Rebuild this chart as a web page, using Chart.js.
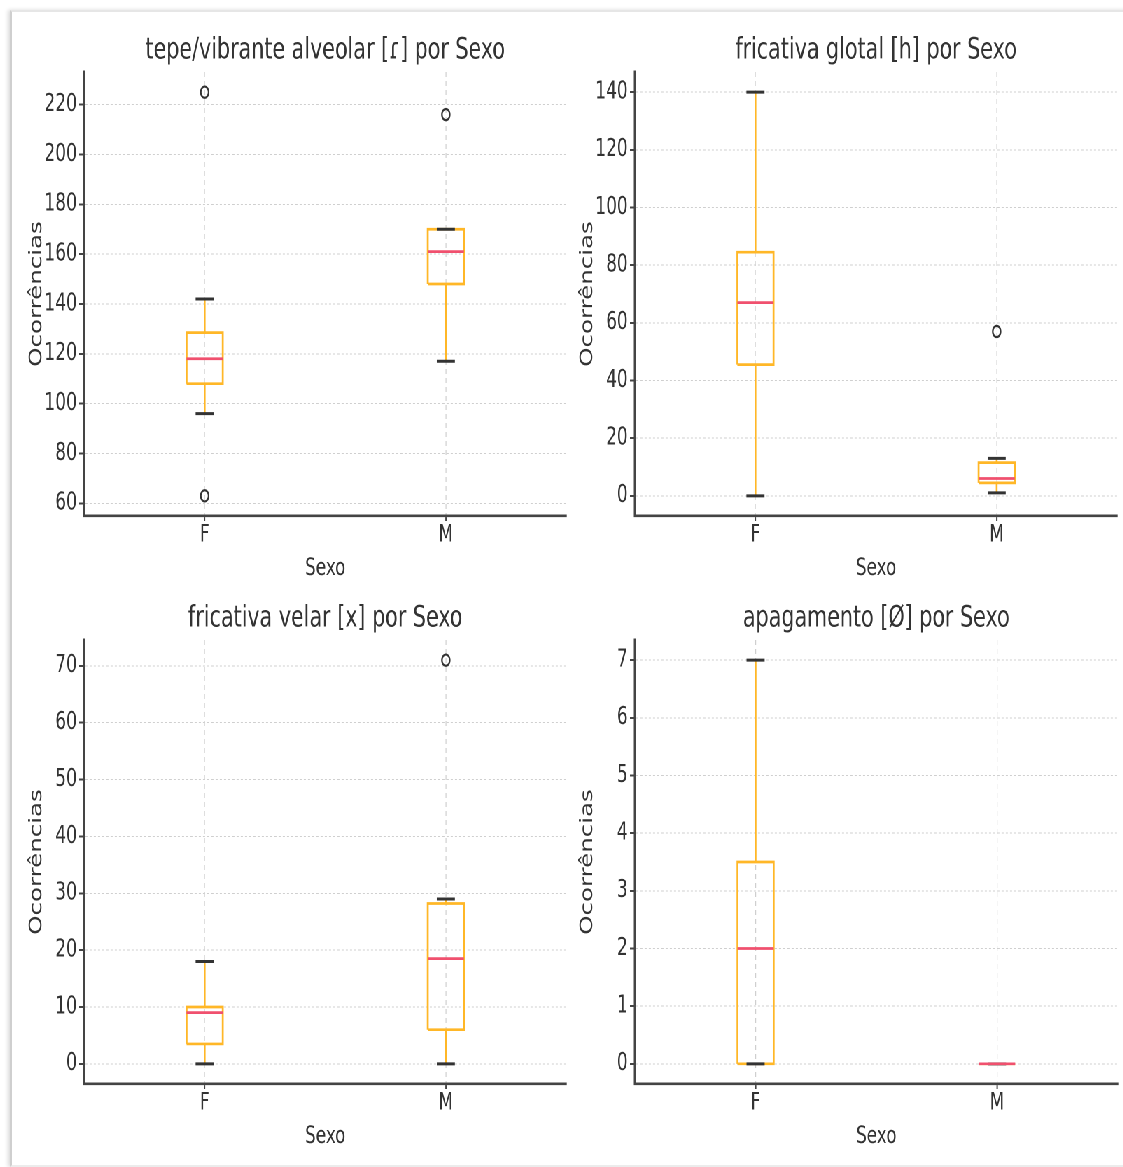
<!DOCTYPE html>
<html>
<head>
<meta charset="utf-8">
<script src="https://cdn.jsdelivr.net/npm/chart.js@4.4.1/dist/chart.umd.min.js"></script>
<style>
  html, body { margin: 0; padding: 0; background: #fff; overflow: hidden; }
  #page { position: relative; width: 1123px; height: 1167px; overflow: hidden; background: #fff; }
  #frame {
    position: absolute; left: 10px; top: 10px; width: 1130px; height: 1153px;
    border-top: 2px solid #e6e6e6; border-left: 2px solid #cfcfcf; border-bottom: 2px solid #ececec;
    box-shadow: -2px 0 4px rgba(0,0,0,0.15);
  }
  #squeeze { position: absolute; left: 0; top: 0; height: 1167px; transform-origin: 0 0; }
  #squeeze canvas { position: absolute; }
</style>
</head>
<body>
<div id="page">
  <div id="frame"></div>
  <div id="squeeze">
    <canvas id="tepeChart"></canvas>
    <canvas id="glotalChart"></canvas>
    <canvas id="velarChart"></canvas>
    <canvas id="apagChart"></canvas>
  </div>
</div>
<script>
// categorias do eixo x
const categories = ['F', 'M'];

// tepe/vibrante alveolar [ɾ]
const tepeLow = [96, 117];
const tepeQ1 = [108, 148];
const tepeMedian = [118, 161];
const tepeQ3 = [128.5, 170];
const tepeHigh = [142, 170];
const tepeOutliers = [[225, 63], [216]];
const tepeTicks = [60, 80, 100, 120, 140, 160, 180, 200, 220];

// fricativa glotal [h]
const glotalLow = [0, 1];
const glotalQ1 = [45.5, 4.5];
const glotalMedian = [67, 6];
const glotalQ3 = [84.5, 11.5];
const glotalHigh = [140, 13];
const glotalOutliers = [[], [57]];
const glotalTicks = [0, 20, 40, 60, 80, 100, 120, 140];

// fricativa velar [x]
const velarLow = [0, 0];
const velarQ1 = [3.5, 6];
const velarMedian = [9, 18.5];
const velarQ3 = [10, 28.2];
const velarHigh = [18, 29];
const velarOutliers = [[], [71]];
const velarTicks = [0, 10, 20, 30, 40, 50, 60, 70];

// apagamento [Ø]
const apagLow = [0, 0];
const apagQ1 = [0, 0];
const apagMedian = [2, 0];
const apagQ3 = [3.5, 0];
const apagHigh = [7, 0];
const apagOutliers = [[], []];
const apagTicks = [0, 1, 2, 3, 4, 5, 6, 7];

// a imagem original esta comprimida na horizontal
const K = 0.70;
const CANVAS_W = 572, CANVAS_H = 584;
const BOX_HALF = 0.075, CAP_HALF = 0.0375;
const TEXT = '#333';
const FONT = 'DejaVu Sans';
const ORANGE = '#ffb727';

document.getElementById('squeeze').style.width = (1123 / K) + 'px';
document.getElementById('squeeze').style.transform = 'scaleX(' + K + ')';

function yRange(low, high, outliers) {
  const all = low.concat(high, ...outliers);
  const mn = Math.min(...all), mx = Math.max(...all);
  const pad = (mx - mn) * 0.05;
  return [mn - pad, mx + pad];
}

function boxDatasets(low, q1, med, q3, high, outliers) {
  let whiskers = [], caps = [], boxes = [], medians = [], fliers = [];
  categories.forEach((c, i) => {
    const p = i + 1;
    whiskers.push({x: p, y: low[i]}, {x: p, y: q1[i]}, {x: p, y: null},
                  {x: p, y: q3[i]}, {x: p, y: high[i]}, {x: p, y: null});
    caps.push({x: p - CAP_HALF, y: low[i]}, {x: p + CAP_HALF, y: low[i]}, {x: p, y: null},
              {x: p - CAP_HALF, y: high[i]}, {x: p + CAP_HALF, y: high[i]}, {x: p, y: null});
    boxes.push({x: p - BOX_HALF, y: q1[i]}, {x: p + BOX_HALF, y: q1[i]}, {x: p + BOX_HALF, y: q3[i]},
               {x: p - BOX_HALF, y: q3[i]}, {x: p - BOX_HALF, y: q1[i]}, {x: p, y: null});
    medians.push({x: p - BOX_HALF, y: med[i]}, {x: p + BOX_HALF, y: med[i]}, {x: p, y: null});
    outliers[i].forEach(v => fliers.push({x: p, y: v}));
  });

  const lineBase = { pointRadius: 0, pointHoverRadius: 0, spanGaps: false, fill: false, tension: 0 };
  return [
    { ...lineBase, data: whiskers, borderColor: ORANGE, borderWidth: 2.6, order: 4 },
    { ...lineBase, data: boxes, borderColor: ORANGE, borderWidth: 2.7, order: 3 },
    { ...lineBase, data: caps, borderColor: '#333', borderWidth: 3, order: 2 },
    { data: fliers, showLine: false, pointRadius: 5.6, pointBorderWidth: 2.2, pointStyle: 'circle',
      pointBorderColor: '#333', pointBackgroundColor: 'rgba(0,0,0,0)', order: 1 },
    { ...lineBase, data: medians, borderColor: '#f0506e', borderWidth: 2.7, order: 0 }
  ];
}

function makeBoxChart(id, col, row, title, low, q1, med, q3, high, outliers, ticks) {
  const canvas = document.getElementById(id);
  canvas.style.left = (col * 551 / K) + 'px';
  canvas.style.top = (row * 568) + 'px';
  canvas.width = CANVAS_W / K;
  canvas.height = CANVAS_H;
  const [ymin, ymax] = yRange(low, high, outliers);

  return new Chart(canvas, {
    type: 'line',
    data: { datasets: boxDatasets(low, q1, med, q3, high, outliers) },
    options: {
      responsive: false,
      animation: false,
      devicePixelRatio: 2,
      layout: { padding: { left: 0, right: 5 / K, top: 0, bottom: 0 } },
      plugins: {
        legend: { display: false },
        tooltip: { enabled: false },
        title: {
          display: true, text: title, color: TEXT, fullSize: false,
          font: { family: FONT, size: 29.5, weight: 'normal' },
          padding: { top: 33, bottom: 3.6 }
        }
      },
      scales: {
        x: {
          type: 'linear', min: 0.5, max: 2.5,
          afterBuildTicks: s => { s.ticks = categories.map((c, i) => ({ value: i + 1 })); },
          afterFit: s => { s.height = 68; },
          ticks: {
            callback: (v, i) => categories[i], color: TEXT, autoSkip: false, maxRotation: 0,
            padding: 0, font: { family: FONT, size: 24 }
          },
          grid: { color: '#cfcfcf', lineWidth: 1.2, tickColor: '#444', tickLength: 5, tickWidth: 2 },
          border: { color: '#444', width: 2.6, dash: [5, 4] },
          title: {
            display: true, text: 'Sexo', color: TEXT,
            font: { family: FONT, size: 24 }, padding: { top: 0, bottom: 1 }
          }
        },
        y: {
          min: ymin, max: ymax,
          afterBuildTicks: s => { s.ticks = ticks.map(v => ({ value: v })); },
          afterFit: s => { s.width = 84 / K; },
          ticks: { color: TEXT, padding: 3, font: { family: FONT, size: 24.5 } },
          grid: { color: '#cfcfcf', lineWidth: 1, tickColor: '#444', tickLength: 7, tickWidth: 2 },
          border: { color: '#444', width: 3.4, dash: [3, 3] },
          title: {
            display: true, text: 'Ocorrências', color: TEXT,
            font: { family: FONT, size: 24.5 }, padding: { top: 38, bottom: 0 }
          }
        }
      }
    }
  });
}

makeBoxChart('tepeChart', 0, 0, 'tepe/vibrante alveolar [ɾ] por Sexo',
  tepeLow, tepeQ1, tepeMedian, tepeQ3, tepeHigh, tepeOutliers, tepeTicks);
makeBoxChart('glotalChart', 1, 0, 'fricativa glotal [h] por Sexo',
  glotalLow, glotalQ1, glotalMedian, glotalQ3, glotalHigh, glotalOutliers, glotalTicks);
makeBoxChart('velarChart', 0, 1, 'fricativa velar [x] por Sexo',
  velarLow, velarQ1, velarMedian, velarQ3, velarHigh, velarOutliers, velarTicks);
makeBoxChart('apagChart', 1, 1, 'apagamento [Ø] por Sexo',
  apagLow, apagQ1, apagMedian, apagQ3, apagHigh, apagOutliers, apagTicks);
</script>
</body>
</html>
